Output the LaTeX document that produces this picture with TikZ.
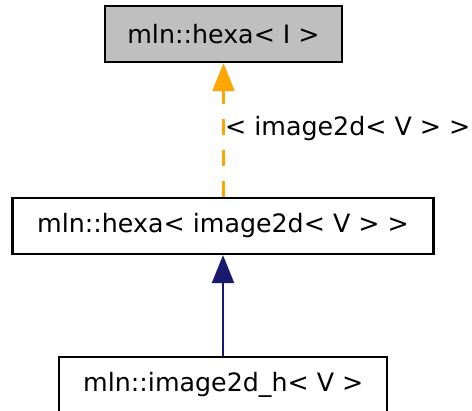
\documentclass[tikz,border=0pt]{standalone}
\usepackage{fontspec}
\setmainfont{DejaVu Sans}
\usetikzlibrary{arrows.meta}
\definecolor{edgeorange}{HTML}{FFA500}
\definecolor{edgenavy}{HTML}{191970}
\definecolor{boxgray}{HTML}{BFBFBF}
\begin{document}
\begin{tikzpicture}[x=1pt,y=-1pt,
  classbox/.style={draw=black, line width=2.2pt, fill=white, minimum height=56pt, inner sep=0pt, font=\fontsize{25.3}{29}\selectfont},
  tmplarrow/.style={draw=edgeorange, line width=2.2pt, dash pattern=on 15.5pt off 15.5pt, -{Triangle[length=28pt,width=22pt]}, edgeorange},
  inhearrow/.style={draw=edgenavy, line width=2.2pt, -{Triangle[length=28pt,width=22pt]}, edgenavy},
  lbl/.style={font=\fontsize{25.3}{29}\selectfont, inner sep=0pt, anchor=west}]
\useasboundingbox (0,0) rectangle (472,411);
\node[classbox, fill=boxgray, minimum width=237pt] (top) at (223.5,34) {mln::hexa< I >};
\node[classbox, minimum width=421pt] (mid) at (223,226) {mln::hexa< image2d< V > >};
\node[classbox, minimum width=328pt] (bot) at (223.3,385) {mln::image2d\_h< V >};
\draw[tmplarrow] (mid.north -| top.south) -- (top.south);
\draw[inhearrow] (bot.north -| mid.south) -- (mid.south);
\node[lbl] (lab) at (225,129) {< image2d< V > >};
\end{tikzpicture}
\end{document}
